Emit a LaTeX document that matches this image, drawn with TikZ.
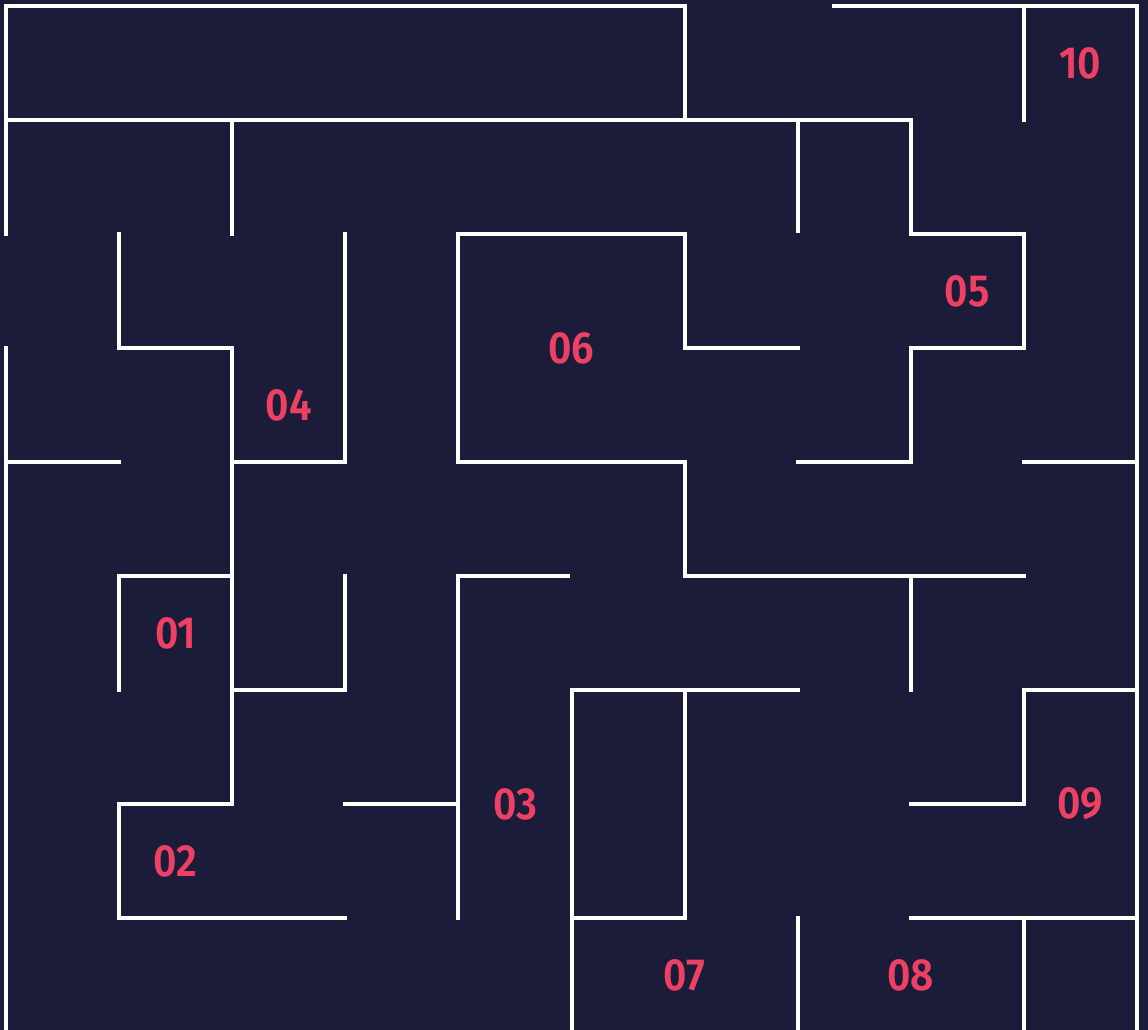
\documentclass[tikz,border=0pt]{standalone}
\usepackage{fontspec}
\usepackage{graphicx}
\setmainfont{Fira Sans}
\newfontfamily\labelfont{Fira Sans SemiBold}
\definecolor{bgnavy}{HTML}{1B1B3A}
\definecolor{labelred}{HTML}{EE4062}
\newcommand{\celltext}[1]{\scalebox{0.9}[1]{#1}}
\tikzset{
  wall/.style={draw=white, line width=4pt, line cap=rect},
  celllabel/.style={text=labelred, font=\labelfont\fontsize{45}{45}\selectfont, inner sep=0pt, anchor=center}
}
\begin{document}
\begin{tikzpicture}[x=1pt,y=-1pt]
\fill[bgnavy] (0,0) rectangle (1148,1030);
\useasboundingbox (0,0) rectangle (1148,1030);
\begin{scope}[shift={(6,6)}, x=113.1pt, y=-114pt]
% horizontal walls
\draw[wall] (0,0) -- (6,0);
\draw[wall] (7.32,0) -- (10,0);
\draw[wall] (0,1) -- (8,1);
\draw[wall] (4,2) -- (6,2);
\draw[wall] (8,2) -- (9,2);
\draw[wall] (1,3) -- (2,3);
\draw[wall] (6,3) -- (7,3);
\draw[wall] (8,3) -- (9,3);
\draw[wall] (0,4) -- (1,4);
\draw[wall] (2,4) -- (3,4);
\draw[wall] (4,4) -- (6,4);
\draw[wall] (7,4) -- (8,4);
\draw[wall] (9,4) -- (10,4);
\draw[wall] (1,5) -- (2,5);
\draw[wall] (4,5) -- (4.97,5);
\draw[wall] (6,5) -- (9,5);
\draw[wall] (2,6) -- (3,6);
\draw[wall] (5,6) -- (7,6);
\draw[wall] (9,6) -- (10,6);
\draw[wall] (1,7) -- (2,7);
\draw[wall] (3,7) -- (4,7);
\draw[wall] (8,7) -- (9,7);
\draw[wall] (1,8) -- (3,8);
\draw[wall] (5,8) -- (6,8);
\draw[wall] (8,8) -- (10,8);
% vertical walls
\draw[wall] (0,0) -- (0,2);
\draw[wall] (0,3) -- (0,9);
\draw[wall] (1,2) -- (1,3);
\draw[wall] (1,5) -- (1,6);
\draw[wall] (1,7) -- (1,8);
\draw[wall] (2,1) -- (2,2);
\draw[wall] (2,3) -- (2,7);
\draw[wall] (3,2) -- (3,4);
\draw[wall] (3,5) -- (3,6);
\draw[wall] (4,2) -- (4,4);
\draw[wall] (4,5) -- (4,8);
\draw[wall] (5,6) -- (5,9);
\draw[wall] (6,0) -- (6,1);
\draw[wall] (6,2) -- (6,3);
\draw[wall] (6,4) -- (6,5);
\draw[wall] (6,6) -- (6,8);
\draw[wall] (7,1) -- (7,1.97);
\draw[wall] (7,8) -- (7,9);
\draw[wall] (8,1) -- (8,2);
\draw[wall] (8,3) -- (8,4);
\draw[wall] (8,5) -- (8,6);
\draw[wall] (9,0) -- (9,1);
\draw[wall] (9,2) -- (9,3);
\draw[wall] (9,6) -- (9,7);
\draw[wall] (9,8) -- (9,9);
\draw[wall] (10,0) -- (10,9);
% labels
\node[celllabel] (l10) at (9.5,0.5) {\celltext{10}};
\node[celllabel] (l05) at (8.5,2.5) {\celltext{05}};
\node[celllabel] (l06) at (5,3) {\celltext{06}};
\node[celllabel] (l04) at (2.5,3.5) {\celltext{04}};
\node[celllabel] (l01) at (1.5,5.5) {\celltext{01}};
\node[celllabel] (l03) at (4.5,7) {\celltext{03}};
\node[celllabel] (l02) at (1.5,7.5) {\celltext{02}};
\node[celllabel] (l07) at (6,8.5) {\celltext{07}};
\node[celllabel] (l08) at (8,8.5) {\celltext{08}};
\node[celllabel] (l09) at (9.5,7) {\celltext{09}};
\end{scope}
\end{tikzpicture}
\end{document}
